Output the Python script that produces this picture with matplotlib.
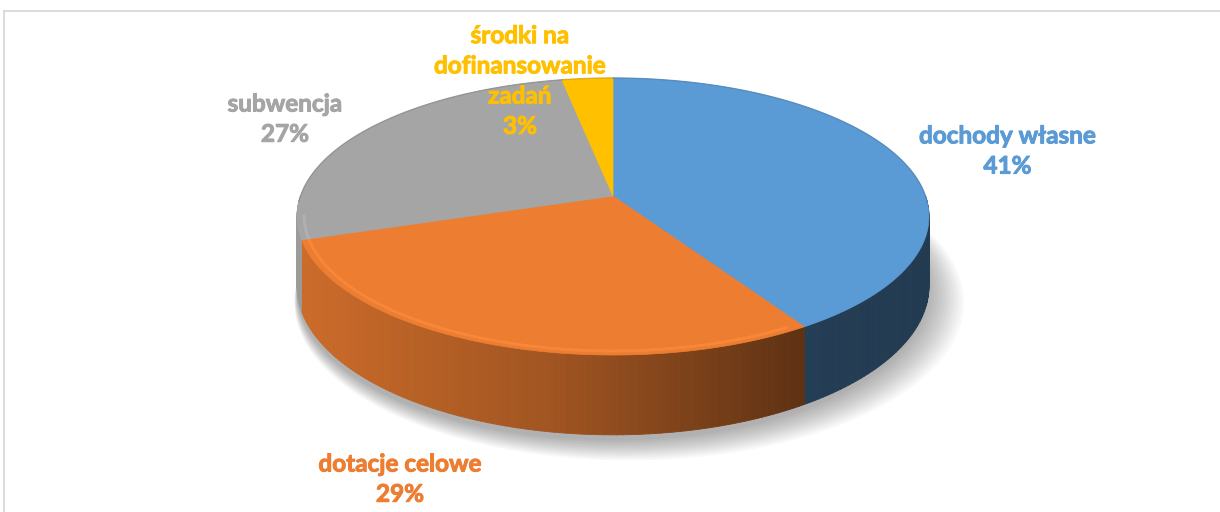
import numpy as np
import matplotlib
matplotlib.use("Agg")
import matplotlib.pyplot as plt
from matplotlib.collections import PolyCollection
from matplotlib.patches import Polygon
from matplotlib.lines import Line2D
import matplotlib.colors as mcolors
import matplotlib.patheffects as pe

# ---- data ----
categories = ["dochody własne", "dotacje celowe", "subwencja", "środki na\ndofinansowanie\nzadań"]
values = [41, 29, 27, 3]
pct_labels = ["41%", "29%", "27%", "3%"]
colors = ["#5B9BD5", "#ED7D31", "#A5A5A5", "#FFC000"]
# label anchor positions (axes data units, pie radius = 1)
label_pos = [(1.262, 0.144), (-0.682, -0.906), (-1.05, 0.246), (-0.298, 0.368)]

plt.rcParams['font.family'] = ['Lato', 'DejaVu Sans']

W, H = 1220, 512
fig = plt.figure(figsize=(W / 100, H / 100), dpi=100)
ax = fig.add_axes([0, 0, 1, 1])
SCALE = 312.5
CX, CY = 613, 196
ax.set_xlim(-CX / SCALE, (W - CX) / SCALE)
ax.set_ylim(-(H - CY) / SCALE, CY / SCALE)
ax.axis('off')

K = 0.148     # perspective
B = 0.4336    # vertical squash
D = 0.2176    # thickness


def proj(theta, z=0.0, r=1.0):
    u = r * np.sin(theta)
    v = r * np.cos(theta)
    w = 1 + K * v
    return u / w, (B * v - z * D) / w


total = float(sum(values))
bounds = np.concatenate([[0], np.cumsum(values)]) / total * 2 * np.pi

# ---- shadow ----
tt = np.linspace(0, 2 * np.pi, 400)
for i in range(14):
    s = 1.0 + 0.0045 * i
    x, y = proj(tt, z=1.0, r=s)
    ax.add_patch(Polygon(np.column_stack([x + 0.004 * i, y - 0.018 - 0.002 * i]), closed=True,
                         facecolor="#000000", edgecolor="none", alpha=0.022, zorder=1))


def shade(X):
    return np.interp(X, [-1.0, -0.2, 0.6, 1.0], [0.86, 0.68, 0.40, 0.38])


# ---- sides ----
for i in range(len(values)):
    t0, t1 = bounds[i], bounds[i + 1]
    a, b = max(t0, np.pi / 2), min(t1, 3 * np.pi / 2)
    if b <= a:
        continue
    n = max(2, int(np.degrees(b - a)) + 1)
    ts = np.linspace(a, b, n + 1)
    polys, cols = [], []
    base = np.array(mcolors.to_rgb(colors[i]))
    for ta, tb in zip(ts[:-1], ts[1:]):
        xa, ya = proj(ta)
        xb, yb = proj(tb)
        xa2, ya2 = proj(ta, 1.0)
        xb2, yb2 = proj(tb, 1.0)
        polys.append([(xa, ya), (xb, yb), (xb2, yb2), (xa2, ya2)])
        f = shade(0.5 * (xa + xb))
        if colors[i] == "#A5A5A5":
            f = min(1.0, f + 0.08)
        cols.append(np.clip(base * f, 0, 1))
    pc = PolyCollection(polys, facecolors=cols, edgecolors=cols, linewidths=0.6, zorder=2)
    ax.add_collection(pc)

# ---- top faces ----
for i in range(len(values)):
    t0, t1 = bounds[i], bounds[i + 1]
    ts = np.linspace(t0, t1, max(3, int(np.degrees(t1 - t0) * 2)))
    x, y = proj(ts)
    pts = np.vstack([[0, 0], np.column_stack([x, y])])
    ax.add_patch(Polygon(pts, closed=True, facecolor=colors[i], edgecolor=colors[i],
                         linewidth=0.5, zorder=3))
    # bevel highlight along the front rim (lit from the left)
    a, b = max(t0, np.radians(150)), min(t1, np.radians(262))
    if b > a:
        th = np.linspace(a, b, 100)
        hx, hy = proj(th, r=0.978)
        light = np.clip(np.array(mcolors.to_rgb(colors[i])) * 1.04 + 0.04, 0, 1)
        ax.plot(hx, hy, color=light, lw=2.0, alpha=0.7, zorder=4, solid_capstyle='butt')
    # subtle dark rim at the back
    th = np.linspace(t0, t1, 100)
    mask = np.cos(th) > -0.05
    if mask.any():
        hx, hy = proj(th[mask], r=1.0)
        dark = np.clip(np.array(mcolors.to_rgb(colors[i])) * 0.75, 0, 1)
        ax.plot(hx, hy, color=dark, lw=1.0, alpha=0.5, zorder=4)

# ---- labels ----
for cat, pct, col, (lx, ly) in zip(categories, pct_labels, colors, label_pos):
    ax.text(lx, ly, cat + "\n" + pct, color=col, fontsize=17.5, fontweight='bold',
            ha='center', va='center', multialignment='center', linespacing=1.38, zorder=5,
            path_effects=[pe.withStroke(linewidth=0.7, foreground=col)])

# ---- chart border ----
fig.add_artist(Line2D([3.5 / W, 1.0], [1 - 10.5 / H, 1 - 10.5 / H], transform=fig.transFigure,
                      color="#D9D9D9", lw=1.3))
fig.add_artist(Line2D([3.5 / W, 3.5 / W], [0, 1 - 10.5 / H], transform=fig.transFigure,
                      color="#D9D9D9", lw=1.3))

fig.savefig("out.png", dpi=100, facecolor="white")
